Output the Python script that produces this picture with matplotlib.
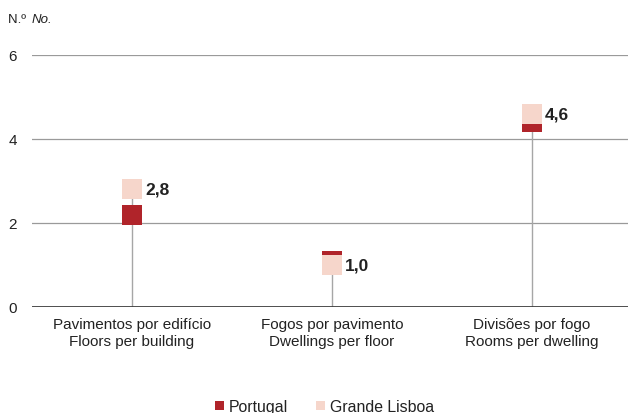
import numpy as np
import matplotlib.pyplot as plt

plt.rcParams['font.family'] = ['Liberation Sans', 'DejaVu Sans']

categories = ["Pavimentos por edifício\nFloors per building",
              "Fogos por pavimento\nDwellings per floor",
              "Divisões por fogo\nRooms per dwelling"]
portugal = [2.2, 1.1, 4.4]
lisboa = [2.8, 1.0, 4.6]
lisboa_labels = ["2,8", "1,0", "4,6"]

red = '#b0242a'
pink = '#f6d6cb'

fig = plt.figure(figsize=(6.28, 4.14), dpi=100)
ax = fig.add_axes([32 / 628, 1 - 308 / 414, 596 / 628, 252 / 414])

x = np.arange(len(categories))

# drop lines from zero to the top marker
for xi, p, l in zip(x, portugal, lisboa):
    ax.plot([xi, xi], [0, max(p, l)], color='#a6a6a6', lw=1, zorder=2)

ax.plot(x, portugal, 's', ms=14.4, mew=0, color=red, zorder=3, label='Portugal')
ax.plot(x, lisboa, 's', ms=14.4, mew=0, color=pink, zorder=4, label='Grande Lisboa')

for xi, v, txt in zip(x, lisboa, lisboa_labels):
    ax.annotate(txt, (xi, v), xytext=(9.5, 0), textcoords='offset points',
                ha='left', va='center', fontsize=12.5, fontweight='bold',
                color='#222222')

ax.set_xlim(-0.5, 2.48)
ax.set_ylim(0, 6)
ax.set_yticks([0, 2, 4, 6])
ax.yaxis.grid(True, color='#9a9a9a', lw=0.9)
ax.set_axisbelow(True)
ax.axhline(0, color='#333333', lw=1.2, zorder=2)

ax.set_xticks(x)
ax.set_xticklabels(categories, fontsize=11, color='#222222', linespacing=1.25)
ax.tick_params(axis='x', length=0, pad=7.5)
ax.tick_params(axis='y', length=0, pad=11, labelsize=11, labelcolor='#222222')
for s in ax.spines.values():
    s.set_visible(False)

fig.text(8 / 628, 1 - 20 / 414, "N.º ", fontsize=9.5, color='#222222', va='center')
fig.text(32 / 628, 1 - 20 / 414, "No.", fontsize=9.5, style='italic', color='#222222', va='center')

fig.legend(loc='lower center', bbox_to_anchor=(0.516, -0.036), ncol=2, frameon=False,
           fontsize=11.4, markerscale=0.45, handlelength=0.6, handletextpad=0.35,
           columnspacing=1.7, labelcolor='#222222')

fig.savefig('out.png', dpi=100)
